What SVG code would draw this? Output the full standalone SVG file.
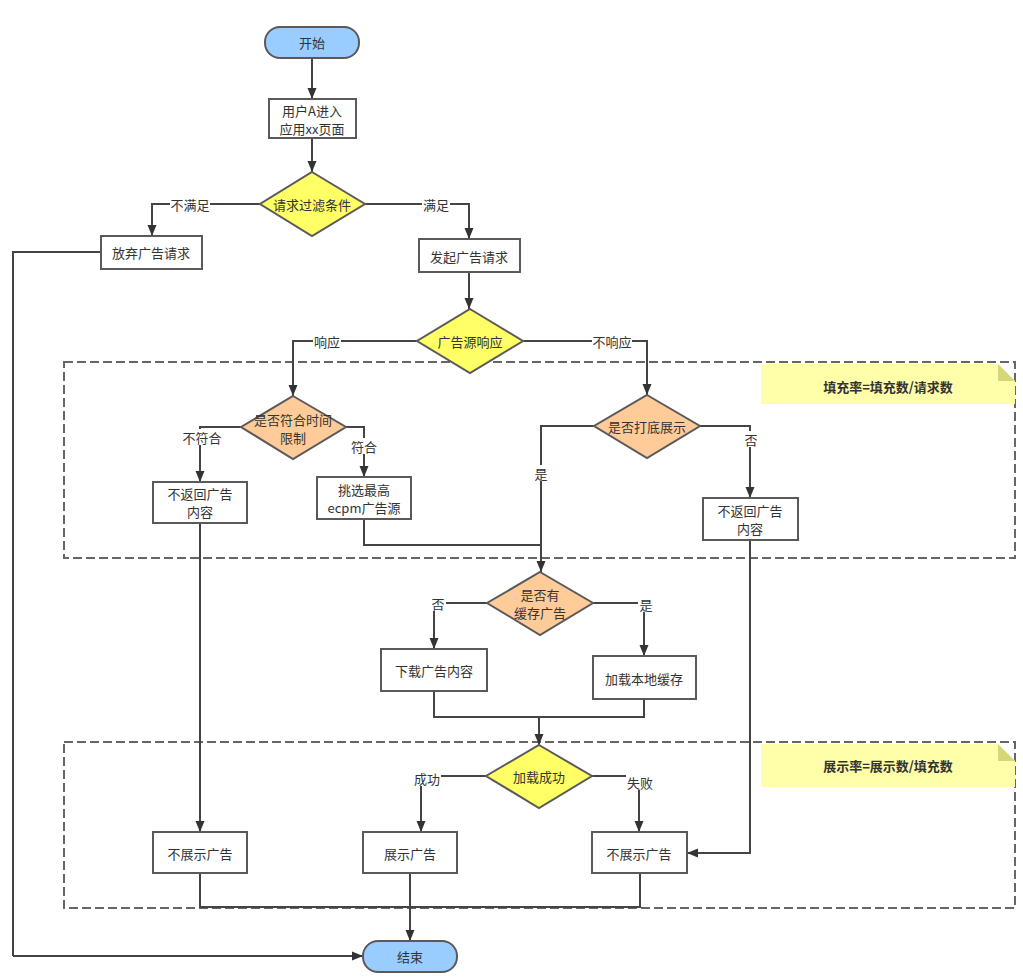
<svg xmlns="http://www.w3.org/2000/svg" width="1023" height="980" viewBox="0 0 1023 980">
<style>
text{font-family:"Microsoft YaHei","Noto Sans CJK SC","Liberation Sans",sans-serif;font-size:13px;fill:#333;text-anchor:middle;dominant-baseline:central}
.box{fill:#fff;stroke:#5a5a5a;stroke-width:2}
.term{fill:#99ccff;stroke:#5a5a5a;stroke-width:2}
.yel{fill:#ffff66;stroke:#5a5a5a;stroke-width:2}
.org{fill:#ffcc99;stroke:#5a5a5a;stroke-width:2}
.c{fill:none;stroke:#444;stroke-width:2}
.ca{fill:none;stroke:#444;stroke-width:2;marker-end:url(#ah)}
.lb{fill:#fff}
.dash{fill:none;stroke:#666;stroke-width:2;stroke-dasharray:9 4}
.note{fill:#ffffaa}
.fold{fill:#d6d67a}
.nt{font-weight:bold;font-size:13px}
</style>
<defs>
<marker id="ah" markerUnits="userSpaceOnUse" markerWidth="12" markerHeight="12" viewBox="0 0 12 12" refX="11" refY="6" orient="auto">
<path d="M0,1.5 L11,6 L0,10.5 Z" fill="#333"/>
</marker>
</defs>
<rect width="1023" height="980" fill="#fff"/>

<g id="groups">
<rect class="dash" x="64" y="362" width="951" height="196"/>
<rect class="dash" x="64" y="742" width="951" height="166"/>
</g>

<g id="note1">
<path class="note" d="M761,364 H998 L1015,381 V404 H761 Z"/>
<path class="fold" d="M998,364 L1015,381 H998 Z"/>
<text class="nt" x="888" y="386">填充率=填充数/请求数</text>
</g>
<g id="note2">
<path class="note" d="M761,744 H998 L1015,761 V787 H761 Z"/>
<path class="fold" d="M998,744 L1015,761 H998 Z"/>
<text class="nt" x="888" y="765">展示率=展示数/填充数</text>
</g>

<g id="connectors">
<path class="ca" d="M312,58 V99"/>
<path class="ca" d="M312,138 V172"/>
<path class="ca" d="M260,204 H152 V236"/>
<path class="ca" d="M365,204 H469 V239"/>
<path class="c" d="M101,252 H13 V956"/>
<path class="ca" d="M13,956 H363"/>
<path class="ca" d="M469,272 V309"/>
<path class="ca" d="M417,341 H293 V396"/>
<path class="ca" d="M523,341 H647 V395"/>
<path class="ca" d="M241,427 H200 V482"/>
<path class="ca" d="M346,427 H364 V477"/>
<path class="ca" d="M594,426 H541 V572"/>
<path class="ca" d="M700,426 H750 V498"/>
<path class="c" d="M364,519 V545 H541"/>
<path class="ca" d="M487,603 H434 V649"/>
<path class="ca" d="M593,603 H644 V656"/>
<path class="c" d="M434,691 V717 H644 V699"/>
<path class="ca" d="M539,717 V745"/>
<path class="ca" d="M486,776 H421 V832"/>
<path class="ca" d="M592,776 H639 V832"/>
<path class="ca" d="M200,523 V832"/>
<path class="ca" d="M750,540 V853 H687"/>
<path class="c" d="M200,873 V907 H640 V873"/>
<path class="ca" d="M410,873 V941"/>
</g>

<g id="labels">
<rect class="lb" x="170" y="196" width="40" height="16"/><text x="190" y="204">不满足</text>
<rect class="lb" x="422" y="196" width="28" height="16"/><text x="436" y="204">满足</text>
<rect class="lb" x="313" y="333" width="28" height="16"/><text x="327" y="341">响应</text>
<rect class="lb" x="592" y="333" width="40" height="16"/><text x="612" y="341">不响应</text>
<rect class="lb" x="181" y="429" width="42" height="16"/><text x="202" y="437">不符合</text>
<rect class="lb" x="350" y="438" width="28" height="16"/><text x="364" y="446">符合</text>
<rect class="lb" x="534" y="465" width="15" height="16"/><text x="541" y="473">是</text>
<rect class="lb" x="744" y="431" width="15" height="16"/><text x="751" y="439">否</text>
<rect class="lb" x="430" y="595" width="16" height="16"/><text x="438" y="603">否</text>
<rect class="lb" x="638" y="596" width="16" height="16"/><text x="646" y="604">是</text>
<rect class="lb" x="413" y="770" width="28" height="16"/><text x="427" y="778">成功</text>
<rect class="lb" x="626" y="774" width="28" height="16"/><text x="640" y="782">失败</text>
</g>

<g id="start"><rect class="term" x="265" y="27" width="94" height="31" rx="15"/><text x="312" y="42">开始</text></g>
<g id="enter"><rect class="box" x="269" y="99" width="87" height="39"/><text x="312" y="110">用户A进入</text><text x="312" y="128">应用xx页面</text></g>
<g id="filter"><path class="yel" d="M312,172 L365,204 L312,236 L260,204 Z"/><text x="312" y="204">请求过滤条件</text></g>
<g id="abandon"><rect class="box" x="101" y="236" width="101" height="33"/><text x="151" y="252">放弃广告请求</text></g>
<g id="request"><rect class="box" x="419" y="239" width="101" height="33"/><text x="469" y="256">发起广告请求</text></g>
<g id="respond"><path class="yel" d="M470,309 L523,341 L470,373 L417,341 Z"/><text x="470" y="341">广告源响应</text></g>
<g id="timelimit"><path class="org" d="M293,396 L346,427 L293,459 L241,427 Z"/><text x="293" y="419">是否符合时间</text><text x="293" y="437">限制</text></g>
<g id="noreturn1"><rect class="box" x="153" y="482" width="94" height="41"/><text x="200" y="493">不返回广告</text><text x="200" y="511">内容</text></g>
<g id="pick"><rect class="box" x="317" y="477" width="94" height="42"/><text x="364" y="489">挑选最高</text><text x="364" y="507">ecpm广告源</text></g>
<g id="fallback"><path class="org" d="M647,395 L700,426 L647,458 L594,426 Z"/><text x="647" y="426">是否打底展示</text></g>
<g id="noreturn2"><rect class="box" x="703" y="498" width="95" height="42"/><text x="750" y="510">不返回广告</text><text x="750" y="528">内容</text></g>
<g id="cache"><path class="org" d="M540,572 L593,603 L540,635 L487,603 Z"/><text x="540" y="594">是否有</text><text x="540" y="612">缓存广告</text></g>
<g id="download"><rect class="box" x="381" y="649" width="106" height="42"/><text x="434" y="670">下载广告内容</text></g>
<g id="loadlocal"><rect class="box" x="593" y="656" width="103" height="43"/><text x="644" y="678">加载本地缓存</text></g>
<g id="loadok"><path class="yel" d="M539,745 L592,776 L539,808 L486,776 Z"/><text x="539" y="776">加载成功</text></g>
<g id="noshow1"><rect class="box" x="153" y="832" width="94" height="41"/><text x="200" y="853">不展示广告</text></g>
<g id="show"><rect class="box" x="363" y="832" width="94" height="41"/><text x="410" y="853">展示广告</text></g>
<g id="noshow2"><rect class="box" x="592" y="832" width="95" height="41"/><text x="639" y="853">不展示广告</text></g>
<g id="end"><rect class="term" x="363" y="941" width="94" height="31" rx="15"/><text x="410" y="956">结束</text></g>
</svg>
